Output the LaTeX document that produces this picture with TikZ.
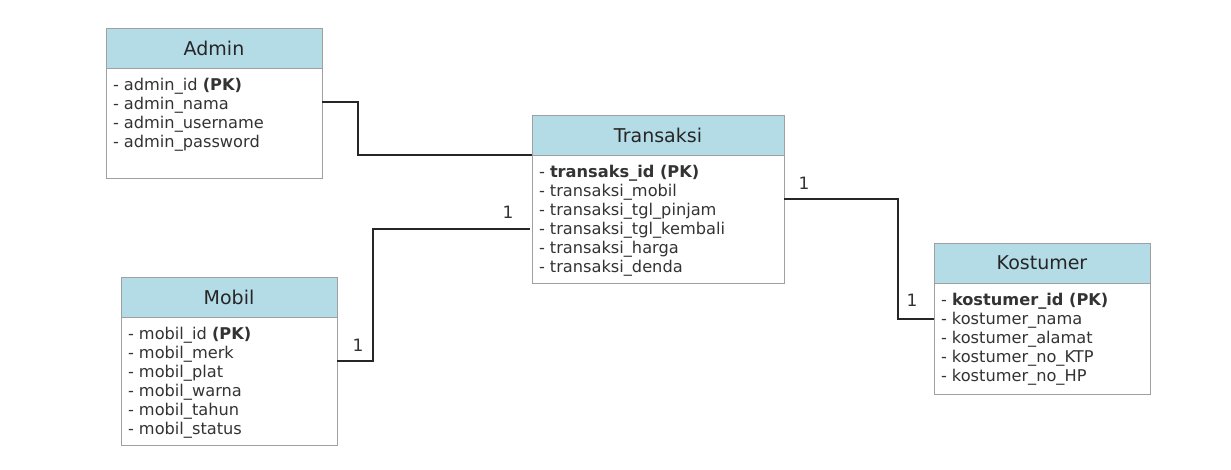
\documentclass[tikz,border=0pt]{standalone}
\usepackage{fontspec}
\usepackage{xcolor}
\usepackage{tikz}
\usetikzlibrary{positioning}
\setmainfont{DejaVu Sans}
\definecolor{headfill}{HTML}{B4DCE6}
\definecolor{edge}{HTML}{A0A0A0}
\definecolor{ink}{HTML}{333333}
\definecolor{wire}{HTML}{262626}

\begin{document}
\begin{tikzpicture}[x=1pt, y=-1pt, outer sep=0pt]
        \tikzstyle{header} = [rectangle, draw=edge, line width=1pt, fill=headfill, minimum height=40pt, text=black!85, font=\fontsize{19}{22}\selectfont]
        \tikzstyle{bodybox} = [rectangle, draw=edge, line width=1pt, fill=white]
        \tikzstyle{attrs} = [anchor=north west, align=left, inner xsep=7pt, inner ysep=10pt, text=ink, font=\fontsize{16.2}{19}\selectfont]
        \tikzstyle{link} = [draw=wire, line width=1.3pt]
        \tikzstyle{card} = [text=ink, font=\fontsize{17}{19}\selectfont]

        \useasboundingbox (0,0) rectangle (1231,469);

        % entities
        \node [header, minimum width=216pt] (admin) at (214,48) {Admin};
        \node [bodybox, minimum width=216pt, minimum height=110pt, below=0pt of admin] (admin-body) {};
        \node [attrs] (admin-attr) at (admin-body.north west) {- admin\_id \textbf{(PK)}\\- admin\_nama\\- admin\_username\\- admin\_password};

        \node [header, minimum width=252pt] (trans) at (658,135) {Transaksi};
        \node [bodybox, minimum width=252pt, minimum height=128pt, below=0pt of trans] (trans-body) {};
        \node [attrs] (trans-attr) at (trans-body.north west) {- \textbf{transaks\_id (PK)}\\- transaksi\_mobil\\- transaksi\_tgl\_pinjam\\- transaksi\_tgl\_kembali\\- transaksi\_harga\\- transaksi\_denda};

        \node [header, minimum width=216pt] (mobil) at (229,297) {Mobil};
        \node [bodybox, minimum width=216pt, minimum height=128pt, below=0pt of mobil] (mobil-body) {};
        \node [attrs] (mobil-attr) at (mobil-body.north west) {- mobil\_id \textbf{(PK)}\\- mobil\_merk\\- mobil\_plat\\- mobil\_warna\\- mobil\_tahun\\- mobil\_status};

        \node [header, minimum width=216pt] (kost) at (1042,263) {Kostumer};
        \node [bodybox, minimum width=216pt, minimum height=111pt, below=0pt of kost] (kost-body) {};
        \node [attrs] (kost-attr) at (kost-body.north west) {- \textbf{kostumer\_id (PK)}\\- kostumer\_nama\\- kostumer\_alamat\\- kostumer\_no\_KTP\\- kostumer\_no\_HP};

        % relations
        \path [link] ([yshift=-34pt]admin-body.north east) -- ++(36,0) |- (trans-body.north west);
        \path [link] ([yshift=-44pt]mobil-body.north east) -- ++(36,0) |- ([xshift=-2pt, yshift=-74pt]trans-body.north west);
        \path [link] ([yshift=-44pt]trans-body.north east) -- ++(114,0) |- ([yshift=-36pt]kost-body.north west);

        % cardinalities
        \node [card] (c-trans-m) at (508,212) {1};
        \node [card] (c-mobil) at (358,345) {1};
        \node [card] (c-trans-k) at (804,183) {1};
        \node [card] (c-kost) at (912,300) {1};
    \end{tikzpicture}
\end{document}
